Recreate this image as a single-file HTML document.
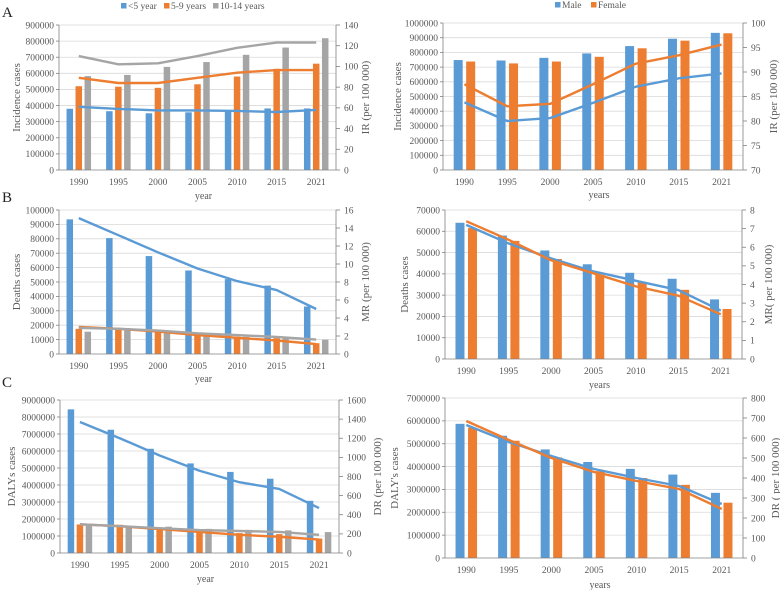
<!DOCTYPE html>
<html><head><meta charset="utf-8"><style>
body{margin:0;background:#fff;}
svg{display:block;font-family:"Liberation Serif",serif;}
</style></head><body>
<svg id="fig" width="780" height="590" viewBox="0 0 780 590"></svg>
<script>
const years = ["1990","1995","2000","2005","2010","2015","2021"];
// Panel A left
const incU5 = [380000,365000,352000,358000,372000,382000,382000];
const inc5_9 = [520000,517000,510000,532000,580000,628000,660000];
const inc10_14 = [583000,590000,640000,670000,715000,760000,818000];
const irU5 = [61,59,57.5,57.5,57,56,58];
const ir5_9 = [89,84,84,89,94,96.5,96.5];
const ir10_14 = [110,102,103,110,118,123,123];
// Panel A right
const incMale = [748000,745000,763000,793000,843000,893000,933000];
const incFemale = [738000,725000,738000,770000,828000,880000,930000];
const irMale = [83.8,80,80.6,83.7,87,88.7,89.7];
const irFemale = [87.5,83,83.5,87.5,91.7,93.4,95.6];
// Panel B left
const dthU5 = [93500,80500,68000,58000,52000,47500,33000];
const dth5_9 = [17500,17000,15000,13000,12000,11000,7500];
const dth10_14 = [15500,16500,14500,12500,12000,11000,10000];
const mrU5 = [15.1,13.2,11.3,9.5,8.1,7.1,5.0];
const mr5_9 = [3.0,2.8,2.5,2.1,1.8,1.5,1.1];
const mr10_14 = [2.9,2.8,2.6,2.3,2.1,1.9,1.6];
// Panel B right
const dthMale = [64000,58000,51000,44500,40500,37700,28000];
const dthFemale = [61500,55500,47000,39500,36000,32500,23500];
const mrMale = [7.2,6.2,5.4,4.7,4.2,3.7,2.6];
const mrFemale = [7.4,6.4,5.3,4.6,3.9,3.4,2.4];
// Panel C left
const dalyU5 = [8450000,7250000,6130000,5270000,4770000,4370000,3070000];
const daly5_9 = [1680000,1660000,1450000,1300000,1170000,1110000,850000];
const daly10_14 = [1600000,1600000,1550000,1420000,1360000,1330000,1230000];
const drU5 = [1370,1200,1020,860,740,670,470];
const dr5_9 = [300,280,250,220,190,170,140];
const dr10_14 = [300,280,260,240,230,220,190];
// Panel C right
const dalyMale = [5870000,5350000,4750000,4200000,3900000,3650000,2850000];
const dalyFemale = [5700000,5130000,4400000,3800000,3500000,3200000,2420000];
const drMale = [665,580,510,445,400,360,270];
const drFemale = [685,590,500,430,385,345,245];

const BLUE="#5b9bd5", ORANGE="#ed7d31", GRAY="#a5a5a5";
const NS="http://www.w3.org/2000/svg";
const svg=document.getElementById('fig');
function mk(tag,attrs,parent,text){const e=document.createElementNS(NS,tag);for(const k in attrs)e.setAttribute(k,attrs[k]);if(text!==undefined)e.textContent=text;(parent||svg).appendChild(e);return e;}

function panel(p){
  const g=mk('g',{});
  
  
  const yL=v=>p.y0-(v-p.lMin)/(p.lMax-p.lMin)*(p.y0-p.y1);
  const yR=v=>p.y0-(v-p.rMin)/(p.rMax-p.rMin)*(p.y0-p.y1);
  const gw=(p.x1-p.x0)/years.length;
  const xc=i=>p.x0+gw*(i+0.5);
  for(let v=p.lMin;v<=p.lMax+1e-9;v+=p.lStep){
    const y=yL(v);
    if(v>p.lMin){const gl=mk('line',{x1:p.x0,x2:p.x1,y1:y,y2:y,stroke:'#d9d9d9','stroke-width':0.8},g);
      }
    const t=mk('text',{x:p.x0-5,y:y+3.3,'text-anchor':'end','font-size':9.5,fill:'#595959'},g,String(v));
    
    mk('line',{x1:p.x0-3,x2:p.x0,y1:y,y2:y,stroke:'#808080','stroke-width':0.8},g);
  }
  for(let v=p.rMin;v<=p.rMax+1e-9;v+=p.rStep){
    const y=yR(v);
    const t=mk('text',{x:p.x1+8,y:y+3.3,'font-size':9.5,fill:'#595959'},g,String(v));
    
    mk('line',{x1:p.x1,x2:p.x1+4,y1:y,y2:y,stroke:'#808080','stroke-width':0.8},g);
  }
  const n=p.bars.length;
  p.bars.forEach((s,k)=>{
    const off=(k-(n-1)/2)*p.bSpace;
    s.data.forEach((v,i)=>{
      const y=yL(v);
      const r=mk('rect',{x:xc(i)+off-p.bW/2,y:y,width:p.bW,height:p.y0-y,fill:s.c},g);
      
      
    });
  });
  p.lines.forEach(s=>{
    const pts=s.data.map((v,i)=>xc(i)+','+yR(v)).join(' ');
    const l=mk('polyline',{points:pts,fill:'none',stroke:s.c,'stroke-width':2.4,'stroke-linejoin':'round'},g);
    
    
  });
  mk('line',{x1:p.x0,x2:p.x0,y1:p.y1,y2:p.y0,stroke:'#808080','stroke-width':0.8},g);
  mk('line',{x1:p.x1,x2:p.x1,y1:p.y1,y2:p.y0,stroke:'#808080','stroke-width':0.8},g);
  mk('line',{x1:p.x0,x2:p.x1,y1:p.y0,y2:p.y0,stroke:'#808080','stroke-width':0.8},g);
  years.forEach((yr,i)=>{
    const t=mk('text',{x:xc(i),y:p.y0+15,'text-anchor':'middle','font-size':9.5,fill:'#595959'},g,yr);
    
  });
  const xt=mk('text',{x:(p.x0+p.x1)/2+6,y:p.xtY,'text-anchor':'middle','font-size':10,fill:'#595959'},g,p.xt);
  
  const ym=(p.y0+p.y1)/2;
  const lt=mk('text',{x:p.ltX,y:ym,'text-anchor':'middle','font-size':11,fill:'#595959',transform:`rotate(-90 ${p.ltX} ${ym})`},g,p.lt);
  
  const rt=mk('text',{x:p.rtX,y:ym,'text-anchor':'middle','font-size':11,fill:'#595959',transform:`rotate(-90 ${p.rtX} ${ym})`},g,p.rt);
  
}

const age=(a,b,c)=>[{id:'under5',c:BLUE,data:a},{id:'5-9',c:ORANGE,data:b},{id:'10-14',c:GRAY,data:c}];
const sex=(a,b)=>[{id:'male',c:BLUE,data:a},{id:'female',c:ORANGE,data:b}];

panel({name:'panel-a-age-incidence',x0:59,x1:336,y0:170,y1:25,lMin:0,lMax:900000,lStep:100000,rMin:0,rMax:140,rStep:20,
  bars:age(incU5,inc5_9,inc10_14),lines:age(irU5,ir5_9,ir10_14),bW:6.5,bSpace:9,xt:'year',xtY:199,lt:'Incidence cases',ltX:20,rt:'IR (per 100 000)',rtX:369});
panel({name:'panel-a-sex-incidence',x0:443,x1:743,y0:170,y1:23,lMin:0,lMax:1000000,lStep:100000,rMin:70,rMax:100,rStep:5,
  bars:sex(incMale,incFemale),lines:sex(irMale,irFemale),bW:9,bSpace:12.5,xt:'years',xtY:198,lt:'Incidence cases',ltX:401,rt:'IR (per 100 000)',rtX:777});
panel({name:'panel-b-age-deaths',x0:59,x1:336,y0:354,y1:210,lMin:0,lMax:100000,lStep:10000,rMin:0,rMax:16,rStep:2,
  bars:age(dthU5,dth5_9,dth10_14),lines:age(mrU5,mr5_9,mr10_14),bW:6.5,bSpace:9,xt:'year',xtY:382,lt:'Deaths cases',ltX:20,rt:'MR (per 100 000)',rtX:369});
panel({name:'panel-b-sex-deaths',x0:445,x1:742,y0:359,y1:210,lMin:0,lMax:70000,lStep:10000,rMin:0,rMax:8,rStep:1,
  bars:sex(dthMale,dthFemale),lines:sex(mrMale,mrFemale),bW:9,bSpace:12.5,xt:'years',xtY:388,lt:'Deaths cases',ltX:408,rt:'MR( per 100 000)',rtX:772});
panel({name:'panel-c-age-dalys',x0:60,x1:339,y0:553,y1:400,lMin:0,lMax:9000000,lStep:1000000,rMin:0,rMax:1600,rStep:200,
  bars:age(dalyU5,daly5_9,daly10_14),lines:age(drU5,dr5_9,dr10_14),bW:6.5,bSpace:9,xt:'year',xtY:582,lt:'DALYs cases',ltX:15,rt:'DR (per 100 000)',rtX:381});
panel({name:'panel-c-sex-dalys',x0:445,x1:743,y0:558,y1:398,lMin:0,lMax:7000000,lStep:1000000,rMin:0,rMax:800,rStep:100,
  bars:sex(dalyMale,dalyFemale),lines:sex(drMale,drFemale),bW:9,bSpace:12.5,xt:'years',xtY:588,lt:"DALY's cases",ltX:398,rt:'DR ( per 100 000)',rtX:779});

[['A',2,17],['B',2,202],['C',2,387]].forEach(([s,x,y])=>{
  const t=mk('text',{x:x,y:y,'font-size':15,fill:'#222'},svg,s);
  
  
});
function legend(items,y){
  items.forEach(([lab,c,x])=>{
    const r=mk('rect',{x:x,y:y-6,width:5.5,height:5.5,fill:c});
    
    
    const t=mk('text',{x:x+7,y:y,'font-size':9.5,fill:'#595959'},svg,lab);
    
    
  });
}
legend([['<5 year',BLUE,121],['5-9 years',ORANGE,164],['10-14 years',GRAY,213]],9);
legend([['Male',BLUE,555],['Female',ORANGE,591]],8);
</script>
</body></html>
